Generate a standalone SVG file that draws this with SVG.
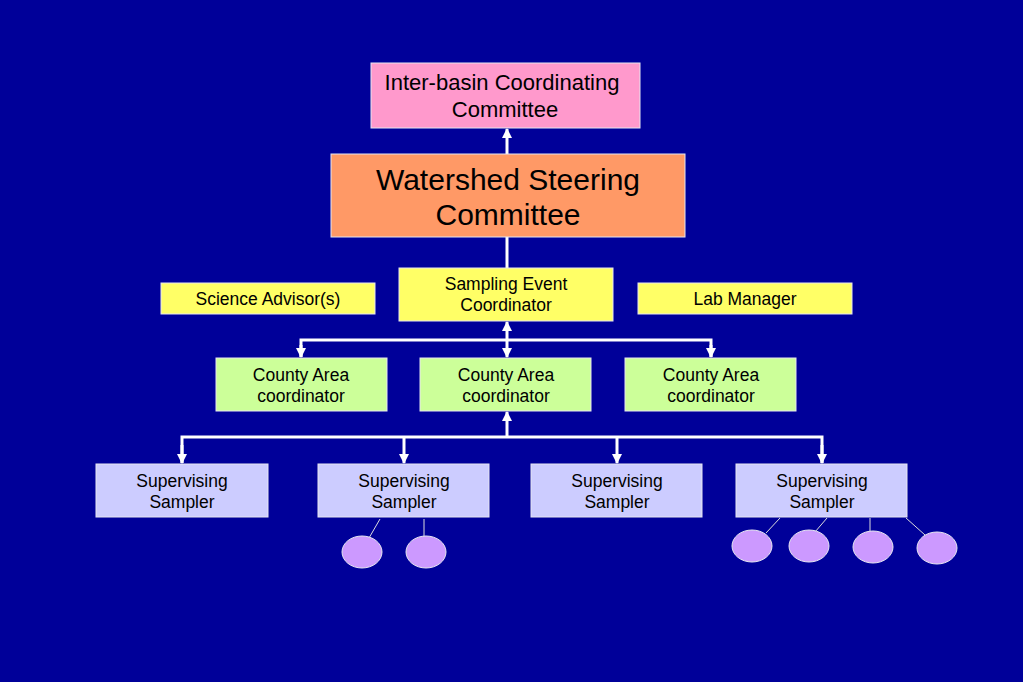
<svg xmlns="http://www.w3.org/2000/svg" width="1023" height="682" viewBox="0 0 1023 682">
<defs>
<marker id="ah" viewBox="0 0 10 10" refX="9" refY="5" markerWidth="3.4" markerHeight="3.4" orient="auto" markerUnits="strokeWidth">
<path d="M0,0 L10,5 L0,10 z" fill="#fff"/>
</marker>
<style>
.box{stroke:#e6e6f0;stroke-width:1}
.t{font-family:"Liberation Sans",Arial,sans-serif;fill:#000;text-anchor:middle}
.s{font-size:17.5px}
.c{stroke:#fff;stroke-width:3;fill:none}
.thin{stroke:#ddd;stroke-width:1;fill:none}
.dot{fill:#CC99FF;stroke:#e6e6f0;stroke-width:1}
</style>
</defs>
<rect width="1023" height="682" fill="#000099"/>
<g id="connectors">
<line class="c" x1="507" y1="154" x2="507" y2="129" marker-end="url(#ah)"/>
<line class="c" x1="507" y1="237" x2="507" y2="268"/>
<line class="c" x1="507" y1="340" x2="507" y2="322" marker-end="url(#ah)"/>
<line class="c" x1="507" y1="340" x2="507" y2="357" marker-end="url(#ah)"/>
<polyline class="c" points="301,357 301,340 711,340 711,357"/>
<line class="c" x1="301" y1="345" x2="301" y2="357" marker-end="url(#ah)"/>
<line class="c" x1="711" y1="345" x2="711" y2="357" marker-end="url(#ah)"/>
<line class="c" x1="507" y1="437" x2="507" y2="412" marker-end="url(#ah)"/>
<polyline class="c" points="182,463 182,437 822,437 822,463"/>
<line class="c" x1="182" y1="445" x2="182" y2="463" marker-end="url(#ah)"/>
<line class="c" x1="404" y1="437" x2="404" y2="463" marker-end="url(#ah)"/>
<line class="c" x1="617" y1="437" x2="617" y2="463" marker-end="url(#ah)"/>
<line class="c" x1="822" y1="445" x2="822" y2="463" marker-end="url(#ah)"/>
<line class="thin" x1="380" y1="519" x2="369" y2="538"/>
<line class="thin" x1="424" y1="519" x2="424" y2="537"/>
<line class="thin" x1="780" y1="518" x2="766" y2="533"/>
<line class="thin" x1="827" y1="518" x2="815" y2="532"/>
<line class="thin" x1="870" y1="518" x2="870" y2="532"/>
<line class="thin" x1="906" y1="518" x2="925" y2="535"/>
</g>
<g id="interbasin">
<rect class="box" x="371" y="63" width="269" height="65" fill="#FF99CC"/>
<text class="t" x="502" y="90" font-size="22">Inter-basin Coordinating</text>
<text class="t" x="505" y="117" font-size="22">Committee</text>
</g>
<g id="watershed">
<rect class="box" x="331" y="154" width="354" height="83" fill="#FF9966"/>
<text class="t" x="508" y="190" font-size="30">Watershed Steering</text>
<text class="t" x="508" y="225" font-size="30">Committee</text>
</g>
<g id="science">
<rect class="box" x="161" y="283" width="214" height="31" fill="#FFFF66"/>
<text class="t s" x="268" y="305">Science Advisor(s)</text>
</g>
<g id="sampling">
<rect class="box" x="399" y="268" width="214" height="53" fill="#FFFF66"/>
<text class="t s" x="506" y="290">Sampling Event</text>
<text class="t s" x="506" y="311">Coordinator</text>
</g>
<g id="lab">
<rect class="box" x="638" y="283" width="214" height="31" fill="#FFFF66"/>
<text class="t s" x="745" y="305">Lab Manager</text>
</g>
<g id="county1">
<rect class="box" x="216" y="358" width="171" height="53" fill="#CCFF99"/>
<text class="t s" x="301" y="381">County Area</text>
<text class="t s" x="301" y="402">coordinator</text>
</g>
<g id="county2">
<rect class="box" x="420" y="358" width="171" height="53" fill="#CCFF99"/>
<text class="t s" x="506" y="381">County Area</text>
<text class="t s" x="506" y="402">coordinator</text>
</g>
<g id="county3">
<rect class="box" x="625" y="358" width="171" height="53" fill="#CCFF99"/>
<text class="t s" x="711" y="381">County Area</text>
<text class="t s" x="711" y="402">coordinator</text>
</g>
<g id="sampler1">
<rect class="box" x="96" y="464" width="172" height="53" fill="#CCCCFF"/>
<text class="t s" x="182" y="487">Supervising</text>
<text class="t s" x="182" y="508">Sampler</text>
</g>
<g id="sampler2">
<rect class="box" x="318" y="464" width="171" height="53" fill="#CCCCFF"/>
<text class="t s" x="404" y="487">Supervising</text>
<text class="t s" x="404" y="508">Sampler</text>
</g>
<g id="sampler3">
<rect class="box" x="531" y="464" width="171" height="53" fill="#CCCCFF"/>
<text class="t s" x="617" y="487">Supervising</text>
<text class="t s" x="617" y="508">Sampler</text>
</g>
<g id="sampler4">
<rect class="box" x="736" y="464" width="171" height="53" fill="#CCCCFF"/>
<text class="t s" x="822" y="487">Supervising</text>
<text class="t s" x="822" y="508">Sampler</text>
</g>
<g id="member1"><ellipse class="dot" cx="362" cy="552" rx="20" ry="16"/></g>
<g id="member2"><ellipse class="dot" cx="426" cy="552" rx="20" ry="16"/></g>
<g id="member3"><ellipse class="dot" cx="752" cy="546" rx="20" ry="16"/></g>
<g id="member4"><ellipse class="dot" cx="809" cy="546" rx="20" ry="16"/></g>
<g id="member5"><ellipse class="dot" cx="873" cy="547" rx="20" ry="16"/></g>
<g id="member6"><ellipse class="dot" cx="937" cy="548" rx="20" ry="16"/></g>
</svg>
